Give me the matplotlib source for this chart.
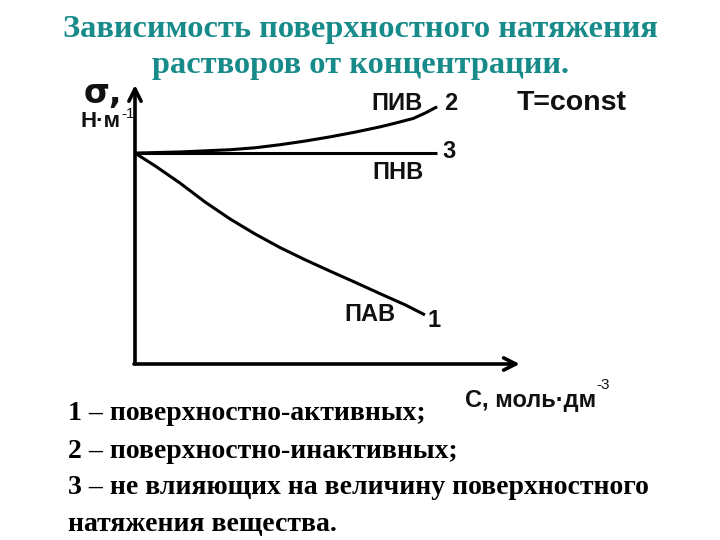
import matplotlib
matplotlib.use('Agg')
import matplotlib.pyplot as plt

plt.rcParams['font.family'] = ['Liberation Sans', 'DejaVu Sans']

# concentration (arbitrary units) and surface tension (arbitrary units)
c_pav = [0.0, 0.53, 1.18, 1.84, 2.5, 3.16, 3.82, 4.47, 5.13, 5.79, 6.45, 7.11, 7.63]
s_pav = [7.56, 7.10, 6.49, 5.81, 5.20, 4.66, 4.17, 3.74, 3.33, 2.93, 2.52, 2.12, 1.76]

c_piv = [0.0, 1.18, 2.5, 3.16, 3.82, 4.47, 5.13, 5.79, 6.45, 6.84, 7.32, 7.63, 7.95]
s_piv = [7.56, 7.60, 7.68, 7.75, 7.86, 7.99, 8.14, 8.31, 8.50, 8.63, 8.80, 8.99, 9.22]

c_pnv = [0.0, 7.95]
s_pnv = [7.56, 7.56]

TEAL = '#178a8a'
W, H = 720, 540


def fx(px):
    return px / W


def fy(py):
    return 1 - py / H


fig = plt.figure(figsize=(7.2, 5.4), dpi=100)
fig.patch.set_facecolor('white')

# title
fig.text(0.5, fy(30), 'Зависимость поверхностного натяжения',
         ha='center', va='center', fontsize=23.3, color=TEAL,
         family='Liberation Serif', weight='bold')
fig.text(0.5, fy(66), 'растворов от концентрации.',
         ha='center', va='center', fontsize=23.3, color=TEAL,
         family='Liberation Serif', weight='bold')

ax = fig.add_axes([fx(135), fy(364), 380 / W, 279 / H])
ax.set_xlim(0, 10)
ax.set_ylim(0, 10)
ax.axis('off')

# axes with arrows
ax.annotate('', xy=(0, 1.01), xytext=(0, -0.01), xycoords='axes fraction',
            arrowprops=dict(arrowstyle='->', lw=2.6, color='black', mutation_scale=22),
            annotation_clip=False)
ax.annotate('', xy=(1.02, 0), xytext=(-0.01, 0), xycoords='axes fraction',
            arrowprops=dict(arrowstyle='->', lw=2.6, color='black', mutation_scale=22),
            annotation_clip=False)

lw = 2.2
ax.plot(c_pav, s_pav, color='black', lw=lw, solid_capstyle='butt', clip_on=False)
ax.plot(c_piv, s_piv, color='black', lw=lw, solid_capstyle='butt', clip_on=False)
ax.plot(c_pnv, s_pnv, color='black', lw=lw, solid_capstyle='butt', clip_on=False)

lab = dict(fontsize=17, weight='bold', color='#111111', ha='center', va='center')
ax.text(6.89, 9.32, 'ПИВ', **lab)
ax.text(6.92, 6.88, 'ПНВ', **lab)
ax.text(6.18, 1.76, 'ПАВ', **lab)
ax.text(8.32, 9.35, '2', **lab)
ax.text(8.27, 7.62, '3', **lab)
ax.text(7.87, 1.55, '1', **lab)

fig.text(fx(572), fy(103), 'T=const', fontsize=20.5, weight='bold',
         ha='center', va='center', color='#111111')

# y-axis label
fig.text(fx(103), fy(94), 'σ,', fontsize=24, weight='bold',
         ha='center', va='center', color='#111111', family='DejaVu Sans')
fig.text(fx(101), fy(122), 'Н·м', fontsize=16, weight='bold',
         ha='center', va='center', color='#111111')
fig.text(fx(121), fy(114), '-1', fontsize=11,
         ha='left', va='center', color='#111111')

# x-axis label
fig.text(fx(531), fy(401), 'С, моль·дм', fontsize=17, weight='bold',
         ha='center', va='center', color='#111111')
fig.text(fx(596), fy(385), '-3', fontsize=11,
         ha='left', va='center', color='#111111')

# caption
cap = ['1 – поверхностно-активных;',
       '2 – поверхностно-инактивных;',
       '3 – не влияющих на величину поверхностного',
       'натяжения вещества.']
cap_y = [414, 451, 488, 524]
for t, y in zip(cap, cap_y):
    fig.text(fx(68), fy(y), t, fontsize=20, family='Liberation Serif',
             weight='bold', ha='left', va='center', color='black')

fig.savefig('out.png', dpi=100, facecolor='white')
